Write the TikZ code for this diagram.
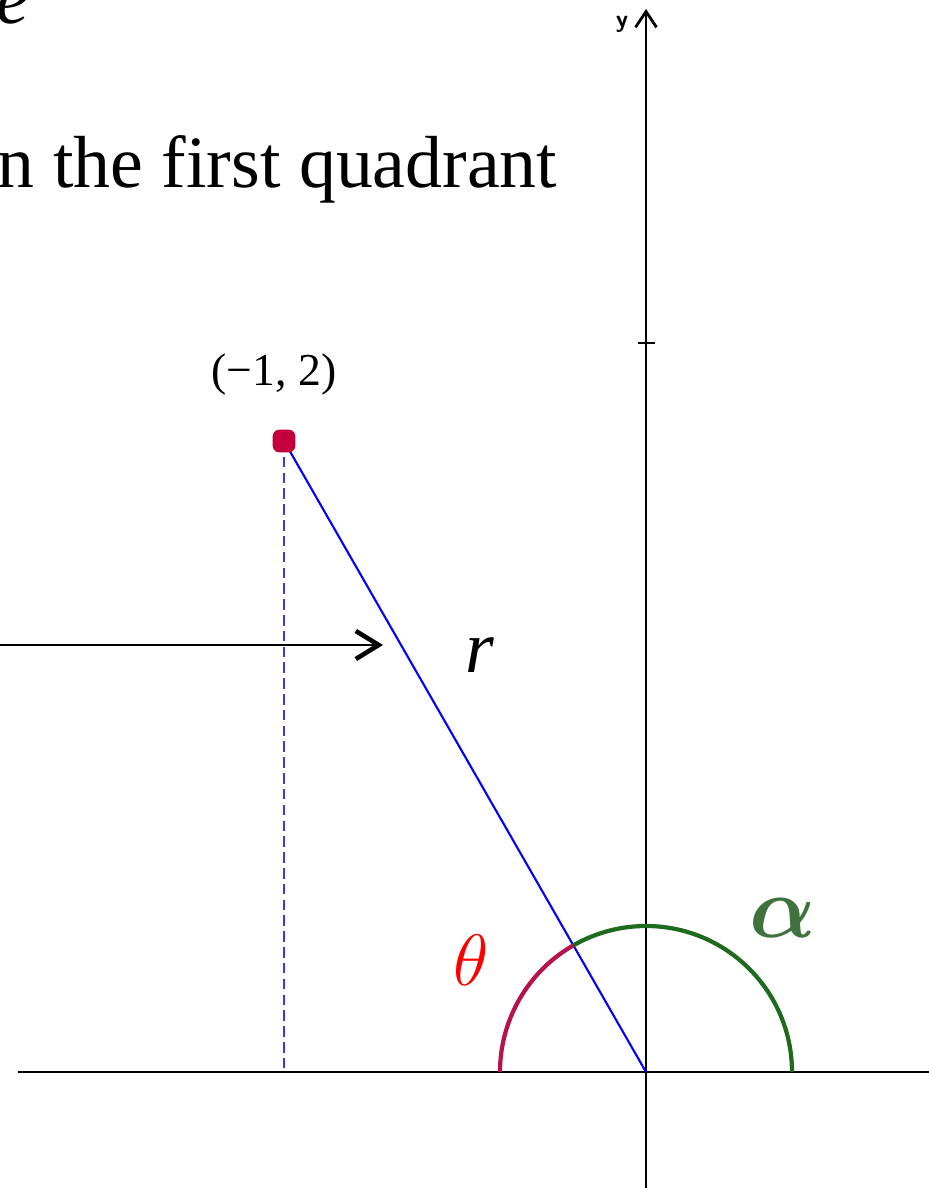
\documentclass[tikz,border=0pt]{standalone}
\usepackage{amsmath,amssymb,bm}
\usepackage{fontspec}
\setmainfont{Liberation Serif}
\usepackage{tikz}
\usetikzlibrary{arrows.meta,calc}
\definecolor{ptred}{HTML}{C4003C}
\definecolor{arcgreen}{HTML}{1E6B1E}
\definecolor{arcred}{HTML}{B8124A}
\definecolor{alphagreen}{HTML}{3F723F}
\definecolor{dashblue}{HTML}{3A3AE0}

\begin{document}
\begin{tikzpicture}[
    axis/.style={line width=0.8pt, black},
    axisarrow/.style={axis, -{Straight Barb[length=4.5pt,width=6pt,line width=0.8pt]}},
    pointer/.style={line width=0.75pt, -{Straight Barb[length=6.5pt,width=8pt,line width=1.3pt]}},
    radius line/.style={blue, line width=0.6pt},
    drop/.style={dashblue, line width=0.5pt, dash pattern=on 3pt off 1.5pt},
    arcline/.style={line width=1.2pt},
    big/.style={font=\fontsize{21}{25}\selectfont},
]
\useasboundingbox (0,0) rectangle (9.29,11.88);
\clip (0,0) rectangle (9.29,11.88);

% ===== TEXT =====
\node[big, anchor=base west, inner sep=0pt] (etext) at (-0.04,11.65) {\textit{e}};
\node[big, anchor=base east, inner sep=0pt] (title) at (5.58,10.01) {n the first quadrant};

% ===== AXES =====
\coordinate (O) at (6.46,1.16);
\coordinate (xl) at (0.18,1.16);
\coordinate (xr) at (9.40,1.16);
\coordinate (yb) at (6.46,-0.10);
\coordinate (yt) at (6.46,11.79);
\draw[axis] (xl) -- (xr);
\draw[axisarrow] (yb) -- (yt);
\node[font=\fontsize{7}{8}\selectfont\bfseries\sffamily] (ylab) at (6.22,11.64) {y};
\draw[axis] ($(O)+(-0.08,7.29)$) -- ($(O)+(0.09,7.29)$);

% ===== POINT AND RADIUS =====
\coordinate (P) at (2.84,7.47);
\coordinate (Pfoot) at (2.84,1.16);
\draw[drop] (P) -- (Pfoot);
\draw[radius line] (P) -- (O);
\node[fill=ptred, rounded corners=2pt, minimum size=6.5pt, inner sep=0pt] (pt) at (P) {};
\node[font=\fontsize{13}{15}\selectfont] (ptlab) at (2.74,8.13) {(−1, 2)};

% pointer arrow
\coordinate (arrstart) at (-0.10,5.43);
\coordinate (arrend) at (3.83,5.43);
\draw[pointer] (arrstart) -- (arrend);
\node[font=\fontsize{21}{25}\selectfont] (rlab) at (4.80,5.33) {\textit{r}};

% ===== ANGLES =====
\draw[arcline, arcgreen] ($(O)+(1.46,0)$) arc[start angle=0, end angle=119.85, radius=1.46];
\draw[arcline, arcred] ($(O)+(119.85:1.46)$) arc[start angle=119.85, end angle=180, radius=1.46];
\node[red, font=\fontsize{22}{26}\selectfont] (thetalab) at (4.71,2.28) {$\theta$};
\node[alphagreen, font=\fontsize{25}{29}\selectfont] (alphalab) at (7.83,2.70) {$\bm{\alpha}$};

\end{tikzpicture}
\end{document}
